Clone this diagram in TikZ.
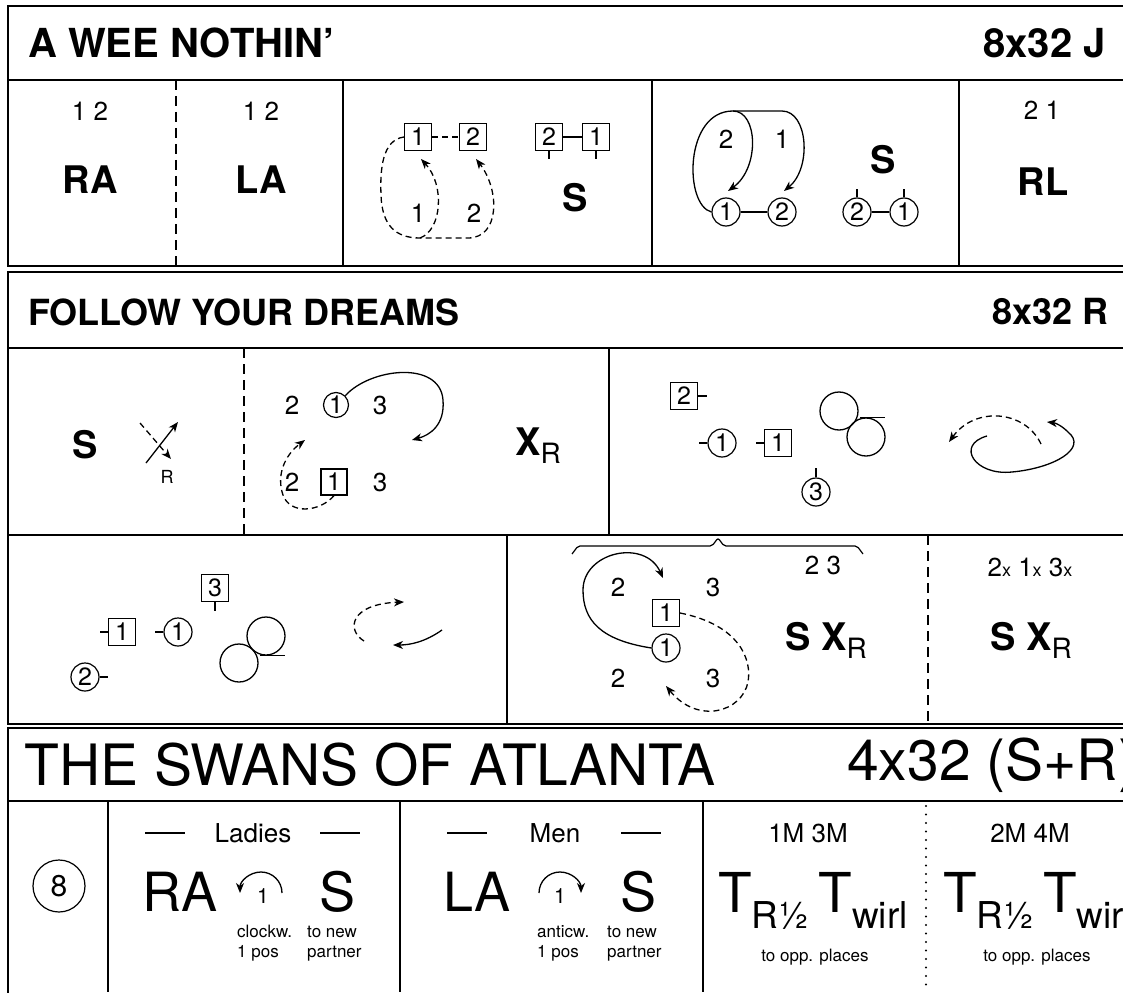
\documentclass[tikz,border=0pt]{standalone}
\usepackage{fontspec}
\setmainfont{TeX Gyre Heros}
\usetikzlibrary{arrows.meta,shapes}
\newcommand{\fsz}[1]{\fontsize{#1}{#1}\selectfont}
\newcommand{\subR}{\raisebox{-8pt}{\fsz{28}\mdseries R}}
\newcommand{\subx}{{\fsz{18}x}}
\newcommand{\Tsub}[1]{{\fsz{55}T}\raisebox{-16pt}{\fsz{37}#1}}
\tikzstyle{frame} = [line width=1.8pt]
\tikzstyle{divider} = [line width=1.4pt]
\tikzstyle{dashdiv} = [divider, dash pattern=on 10pt off 6pt]
\tikzstyle{dotdiv} = [line width=2.4pt, line cap=round, dash pattern=on 0pt off 8.5pt]
\tikzstyle{man} = [draw, line width=1.2pt, rectangle, minimum size=27pt, inner sep=0pt, font=\fsz{25}]
\tikzstyle{lady} = [draw, line width=1.2pt, circle, minimum size=28pt, inner sep=0pt, font=\fsz{25}]
\tikzstyle{ring} = [draw, line width=1.3pt, circle, minimum size=38pt, inner sep=0pt]
\tikzstyle{track} = [line width=1.3pt]
\tikzstyle{dtrack} = [track, dash pattern=on 6pt off 4pt]
\tikzstyle{title} = [font=\fsz{40}\bfseries]
\tikzstyle{subtitle} = [font=\fsz{36}\bfseries]
\tikzstyle{swan} = [font=\fsz{57}]
\tikzstyle{big} = [font=\fsz{38}\bfseries]
\tikzstyle{huge} = [font=\fsz{54}]
\tikzstyle{small} = [font=\fsz{26}]
\tikzstyle{note} = [font=\fsz{17}]

\begin{document}
\begin{tikzpicture}[x=1pt,y=-1pt,every node/.style={inner sep=0pt},
  >={Stealth[length=10pt,width=8pt,inset=3pt]}]
\useasboundingbox (0,0) rectangle (1123,992);
\clip (0,0) rectangle (1123,992);
% Frames
\draw[frame] (8,6) rectangle (1140,266);
\draw[frame] (8,80) -- (1140,80);
\draw[dashdiv] (176,80) -- (176,266);
\draw[divider] (343,80) -- (343,266);
\draw[divider] (652,80) -- (652,266);
\draw[divider] (959,80) -- (959,266);
\draw[frame] (8,272) rectangle (1140,724);
\draw[frame] (8,348) -- (1140,348);
\draw[frame] (8,535) -- (1140,535);
\draw[dashdiv] (244,348) -- (244,535);
\draw[divider] (609,348) -- (609,535);
\draw[divider] (507,535) -- (507,724);
\draw[dashdiv] (928,535) -- (928,724);
\draw[frame] (8,728) rectangle (1140,1010);
\draw[frame] (8,801) -- (1140,801);
\draw[divider] (108,801) -- (108,992);
\draw[divider] (400,801) -- (400,992);
\draw[divider] (703,801) -- (703,992);
\draw[dotdiv] (926,806) -- (926,992);

% A Wee Nothin'
\node[title, anchor=west] (wee) at (28,43) {A WEE NOTHIN’};
\node[title, anchor=east] (weebars) at (1106,43) {8x32 J};
\node[small] (ranum) at (90,111) {1 2};
\node[big] (ra) at (90,180) {RA};
\node[small] (lanum) at (261,111) {1 2};
\node[big] (la) at (261,180) {LA};
\node[man] (pa) at (418,137) {1};
\node[man] (pb) at (473,137) {2};
\node[small] (pa1) at (418,213) {1};
\node[small] (pb2) at (474,213) {2};
\coordinate (low) at (420,238);
\draw[dtrack] (pa) -- (pb);
\draw[dtrack,->] (pa.west) .. controls (382,140) and (380,170) .. (381,195)
  .. controls (382,225) and (395,238) .. (low) -- (468,238)
  .. controls (500,238) and (500,190) .. (476,159);
\draw[dtrack,->] (low) .. controls (442,230) and (445,185) .. (421,159);
\node[man] (qb) at (549,137) {2};
\node[man] (qa) at (596,137) {1};
\draw[track] (qb) -- (qa);
\draw[track] (qb.south) -- ++(0,8);
\draw[track] (qa.south) -- ++(0,8);
\node[big] (s1) at (575,198) {S};
\node[lady] (ca) at (726,212) {1};
\node[lady] (cb) at (782,212) {2};
\node[small] (ca2) at (726,139) {2};
\node[small] (cb1) at (782,139) {1};
\coordinate (top) at (733,111);
\draw[track] (ca) -- (cb);
\draw[track,->] (ca.west) .. controls (684,205) and (684,111) .. (top)
  .. controls (758,111) and (760,168) .. (728,191);
\draw[track,->] (top) -- (782,111) .. controls (808,111) and (812,168) .. (784,191);
\node[big] (s2) at (883,160) {S};
\node[lady] (db) at (857,212) {2};
\node[lady] (da) at (904,212) {1};
\draw[line width=2pt] (db) -- (da);
\draw[track] (db.north) -- ++(0,-8);
\draw[track] (da.north) -- ++(0,-8);
\node[small] (rlnum) at (1042,110) {2 1};
\node[big] (rl) at (1043,182) {RL};

% Follow Your Dreams
\node[subtitle, anchor=west] (dreams) at (28,312) {FOLLOW YOUR DREAMS};
\node[subtitle, anchor=east] (dreamsbars) at (1109,312) {8x32 R};
\node[big] (s3) at (85,445) {S};
\coordinate (ua) at (140,423);
\coordinate (ub) at (146,463);
\draw[dtrack,->] (ua) -- (171,459);
\draw[track,->] (ub) -- (178,422);
\node[font=\fsz{18}] (rr) at (167,477) {R};
\node[small] (ta2) at (292,405) {2};
\node[lady, minimum size=25pt] (ta) at (336,405) {1};
\node[small] (ta3) at (380,405) {3};
\node[small] (tb2) at (292,482) {2};
\node[man, minimum size=26pt] (tb) at (334,482) {1};
\node[small] (tb3) at (380,482) {3};
\draw[track,->] (ta.north east) .. controls (370,368) and (440,360) .. (443,400)
  .. controls (445,425) and (430,435) .. (412,440);
\draw[dtrack,->] (tb.south) .. controls (320,512) and (290,515) .. (283,495)
  .. controls (276,475) and (285,455) .. (305,440);
\node[font=\fsz{38}] (xr1) at (538,446) {\bfseries X\subR};
\node[man] (ea) at (684,396) {2};
\node[lady] (fa) at (722,443) {1};
\node[man] (eb) at (778,443) {1};
\node[lady] (fc) at (816,492) {3};
\draw[track] (ea.east) -- ++(9,0);
\draw[track] (fa.west) -- ++(-8,0);
\draw[track] (eb.west) -- ++(-8,0);
\draw[track] (fc.north) -- ++(0,-9);
\node[ring] (rga) at (839,411) {};
\node[ring] (rgb) at (866,437) {};
\draw[track] ([xshift=-6pt]rgb.north) -- ++(25,0);
\coordinate (wa) at (1041,444);
\coordinate (wb) at (987,436);
\draw[dtrack,->] (wa) .. controls (1025,410) and (975,406) .. (949,442);
\draw[track,->] (wb) .. controls (955,445) and (975,476) .. (1012,472)
  .. controls (1055,468) and (1088,448) .. (1068,432)
  .. controls (1062,426) and (1056,423) .. (1047,422);
\node[man] (ga) at (215,588) {3};
\node[man] (gb) at (122,632) {1};
\node[lady] (ha) at (178,632) {1};
\node[lady] (hb) at (85,677) {2};
\draw[track] (ga.south) -- ++(0,9);
\draw[track] (gb.west) -- ++(-8,0);
\draw[track] (ha.west) -- ++(-8,0);
\draw[track] (hb.east) -- ++(8,0);
\node[ring] (rgc) at (266,636) {};
\node[ring] (rgd) at (239,663) {};
\draw[track] ([xshift=-6pt]rgc.south) -- ++(25,0);
\coordinate (va) at (364,641);
\coordinate (vb) at (442,630);
\draw[dtrack,->] (va) .. controls (346,630) and (350,604) .. (404,602);
\draw[track,->] (vb) .. controls (425,642) and (410,645) .. (393,645);
\draw[line width=1.2pt, rounded corners=2pt] (572,554) -- (578,546) -- (712,546)
  -- (718,538) -- (724,546) -- (857,546) -- (863,554);
\node[small] (ka23) at (823,565) {2 3};
\node[small] (ka2) at (618,587) {2};
\node[small] (ka3) at (713,587) {3};
\node[man] (ma) at (666,613) {1};
\node[lady] (la1) at (666,648) {1};
\node[small] (kb2) at (618,678) {2};
\node[small] (kb3) at (713,678) {3};
\draw[track,->] (la1.west) .. controls (600,640) and (583,620) .. (583,590)
  .. controls (583,552) and (645,538) .. (663,578);
\draw[dtrack,->] (ma.east) .. controls (740,625) and (752,660) .. (748,682)
  .. controls (742,712) and (698,725) .. (666,686);
\node[font=\fsz{38}] (sxr1) at (826,640) {\bfseries S X\subR};
\node[small] (xnum) at (1030,567) {2\subx{} 1\subx{} 3\subx};
\node[font=\fsz{38}] (sxr2) at (1031,640) {\bfseries S X\subR};

% The Swans of Atlanta
\node[swan, anchor=west] (swans) at (24,765) {THE SWANS OF ATLANTA};
\node[swan, anchor=west] (swansbars) at (847,765) {4x32 (S+R)};
\node[lady, minimum size=52pt, font=\fsz{30}] (eight) at (59,886) {8};
\node[font=\fsz{26}] (ladies) at (253,833) {Ladies};
\draw[line width=1.5pt] (145,833) -- (185,833);
\draw[line width=1.5pt] (320,833) -- (360,833);
\node[huge] (ra2) at (180,892) {RA};
\draw[track,->] (282,893) arc[start angle=0, end angle=180, radius=21pt];
\node[font=\fsz{21}] (turnl) at (263,896) {1};
\node[huge] (sl) at (338,892) {S};
\node[note, anchor=base west] (cw1) at (237,937) {clockw.};
\node[note, anchor=base west] (cw2) at (237,957) {1 pos};
\node[note, anchor=base west] (nl1) at (307,937) {to new};
\node[note, anchor=base west] (nl2) at (307,957) {partner};
\node[font=\fsz{26}] (men) at (555,833) {Men};
\draw[line width=1.5pt] (447,833) -- (487,833);
\draw[line width=1.5pt] (621,833) -- (661,833);
\node[huge] (la2) at (477,892) {LA};
\draw[track,->] (539,893) arc[start angle=180, end angle=0, radius=21pt];
\node[font=\fsz{21}] (turnm) at (560,896) {1};
\node[huge] (sm) at (638,892) {S};
\node[note, anchor=base west] (acw1) at (537,937) {anticw.};
\node[note, anchor=base west] (acw2) at (537,957) {1 pos};
\node[note, anchor=base west] (nm1) at (607,937) {to new};
\node[note, anchor=base west] (nm2) at (607,957) {partner};
\node[font=\fsz{26}] (m13) at (808,833) {1M 3M};
\node[anchor=base] (tw1) at (813,912) {\Tsub{R½}\hspace{9pt}\Tsub{wirl}};
\node[note] (opp1) at (815,957) {to opp. places};
\node[font=\fsz{26}] (m24) at (1030,833) {2M 4M};
\node[anchor=base west] (tw2) at (943,912) {\Tsub{R½}\hspace{9pt}\Tsub{wirl}};
\node[note] (opp2) at (1037,957) {to opp. places};
\end{tikzpicture}
\end{document}
